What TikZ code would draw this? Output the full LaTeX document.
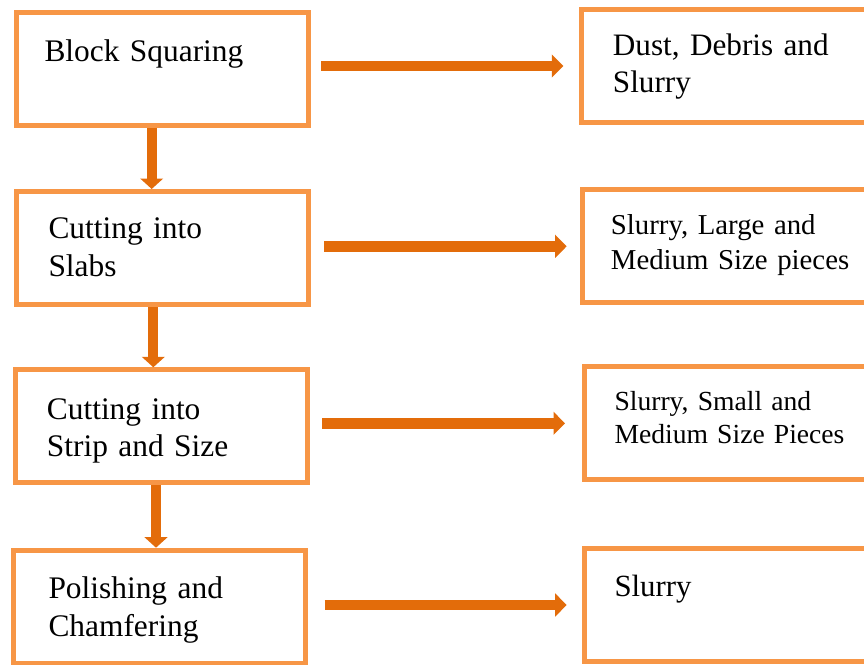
\documentclass[tikz,border=0pt]{standalone}
\usepackage{fontspec}
\setmainfont{Liberation Serif}
\usetikzlibrary{arrows.meta}
\definecolor{boxorange}{HTML}{F79646}
\definecolor{arroworange}{HTML}{E36C0A}

\begin{document}
\begin{tikzpicture}[x=1pt,y=-1pt]

  \tikzstyle{stage}=[rectangle,draw=boxorange,line width=5pt,inner sep=0pt,minimum width=292pt,minimum height=113pt]
  \tikzstyle{txt}=[anchor=base west,inner sep=0pt,align=left,text width=270pt]
  \tikzstyle{flow}=[draw=arroworange,line width=10.5pt,-{Triangle[length=11.5pt,width=22.5pt]}]
  \tikzstyle{down}=[draw=arroworange,line width=10pt,-{Triangle[length=10.5pt,width=22.5pt]}]

  \useasboundingbox (0,0) rectangle (864,664);
  \clip (0,0) rectangle (864,664);

  % process steps
  \node[stage] (L1) at (162.7,69)    {};
  \node[stage] (L2) at (162.7,248)   {};
  \node[stage] (L3) at (161,426.3)   {};
  \node[stage] (L4) at (159.9,606.7) {};

  % waste
  \node[stage] (R1) at (727.3,66)    {};
  \node[stage] (R2) at (728.5,246.3) {};
  \node[stage] (R3) at (730.7,423.3) {};
  \node[stage] (R4) at (730.7,605)   {};

  \node[txt,font=\fontsize{31.4}{37.7}\selectfont] (t1) at (44.3,61)   {Block Squaring};
  \node[txt,font=\fontsize{31.4}{37.7}\selectfont] (t2) at (48.3,238.3) {Cutting into\\Slabs};
  \node[txt,font=\fontsize{31.4}{37.4}\selectfont] (t3) at (46.7,419.3) {Cutting into\\Strip and Size};
  \node[txt,font=\fontsize{31.4}{37.7}\selectfont] (t4) at (48.3,598.3) {Polishing and\\Chamfering};

  \node[txt,font=\fontsize{31.2}{37.5}\selectfont] (w1) at (612.7,55)   {Dust, Debris and\\Slurry};
  \node[txt,font=\fontsize{28.8}{35}\selectfont]   (w2) at (610.7,234.3) {Slurry, Large and\\Medium Size pieces};
  \node[txt,font=\fontsize{27.6}{33.3}\selectfont] (w3) at (614.3,410)  {Slurry, Small and\\Medium Size Pieces};
  \node[txt,font=\fontsize{30.8}{37}\selectfont]   (w4) at (614.3,596.7) {Slurry};

  \draw[down] ([xshift=-11pt]L1.south) -- ([xshift=-11pt]L1.south |- L2.north);
  \draw[down] ([xshift=-9.4pt]L2.south) -- ([xshift=-9.4pt]L2.south |- L3.north);
  \draw[down] ([xshift=-5pt]L3.south) -- ([xshift=-5pt]L3.south |- L4.north);

  \draw[flow,shorten <=10pt,shorten >=15.5pt] (L1.east |- R1.west) -- (R1.west);
  \draw[flow,shorten <=12.8pt,shorten >=13.3pt] (L2.east |- R2.west) -- (R2.west);
  \draw[flow,shorten <=12.9pt,shorten >=17.2pt] (L3.east |- R3.west) -- (R3.west);
  \draw[flow,shorten <=16.2pt,shorten >=15.5pt] (L4.east |- R4.west) -- (R4.west);

\end{tikzpicture}
\end{document}
